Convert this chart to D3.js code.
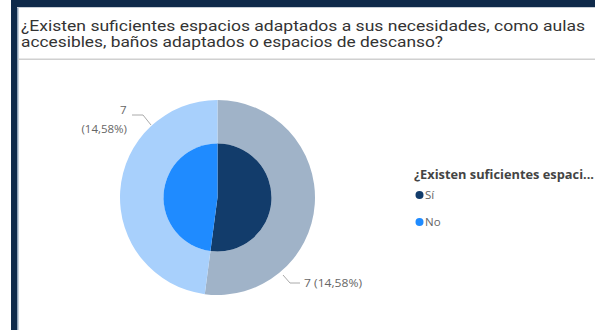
<!DOCTYPE html>
<html><head><meta charset="utf-8">
<script src="https://cdn.jsdelivr.net/npm/d3@7"></script>
<style>body{margin:0;background:#fff}svg{display:block}</style>
</head><body>
<svg id="c" width="595" height="330"></svg>
<script>
const titleLines = ["¿Existen suficientes espacios adaptados a sus necesidades, como aulas", "accesibles, baños adaptados o espacios de descanso?"];
const categories = ["Sí", "No"];
const innerValues = [25, 23];
const outerValues = [25, 23];
const outerLabels = [["7 (14,58%)"], ["7", "(14,58%)"]];
const legendTitle = "¿Existen suficientes espaci...";
const innerColors = ["#123C6B", "#1F8BFF"];
const outerColors = ["#A0B3C8", "#A8D0FC"];

const svg = d3.select("#c");
// frame
svg.append("rect").attr("x", 11).attr("y", 0).attr("width", 6).attr("height", 330).attr("fill", "#0F2A4A");
svg.append("rect").attr("x", 11).attr("y", 0).attr("width", 584).attr("height", 7).attr("fill", "#0F2A4A");
svg.append("rect").attr("x", 17).attr("y", 7).attr("width", 1.5).attr("height", 323).attr("fill", "#8FA3B8");
svg.append("rect").attr("x", 17).attr("y", 7).attr("width", 578).attr("height", 1).attr("fill", "#C8CED6");
svg.append("rect").attr("x", 18).attr("y", 58.5).attr("width", 577).attr("height", 1.5).attr("fill", "#D0D0D0");

const titleWidths = [564, 422];
titleLines.forEach((l, i) => {
  svg.append("text").attr("font-family", "Roboto, sans-serif").attr("font-size", 14.5).attr("fill", "#333")
    .attr("x", 21).attr("y", 30.5 + i * 16.5)
    .attr("textLength", titleWidths[i]).attr("lengthAdjust", "spacingAndGlyphs").text(l);
});

const cx = 217.5, cy = 197.5, rIn = 54, rOut = 97.5;
const g = svg.append("g").attr("transform", `translate(${cx},${cy})`);
const pie = d3.pie().sort(null).value(d => d);
const innerArcs = pie(innerValues);
const outerArcs = pie(outerValues);
g.selectAll(".o").data(outerArcs).join("path").attr("class", "o")
  .attr("d", d3.arc().innerRadius(rIn).outerRadius(rOut)).attr("fill", (d, i) => outerColors[i]);
g.selectAll(".i").data(innerArcs).join("path").attr("class", "i")
  .attr("d", d3.arc().innerRadius(0).outerRadius(rIn)).attr("fill", (d, i) => innerColors[i]);

// labels
const lab = svg.append("g").attr("font-family", "Open Sans, sans-serif").attr("font-size", 11.5).attr("fill", "#666");
lab.append("path").attr("d", "M283,275 L290,283 L300,283").attr("fill", "none").attr("stroke", "#AAA").attr("stroke-width", 1);
lab.append("text").attr("x", 304).attr("y", 287).attr("textLength", 58).attr("lengthAdjust", "spacingAndGlyphs").text(outerLabels[0][0]);
lab.append("path").attr("d", "M151,125 L143,115 L132,115").attr("fill", "none").attr("stroke", "#AAA").attr("stroke-width", 1);
lab.append("text").attr("x", 126.5).attr("y", 114).attr("text-anchor", "end").text(outerLabels[1][0]);
lab.append("text").attr("x", 127).attr("y", 133).attr("text-anchor", "end").text(outerLabels[1][1]);

// legend
const lg = svg.append("g").attr("font-family", "Open Sans, sans-serif");
lg.append("text").attr("x", 414).attr("y", 179).attr("font-size", 11.5).attr("font-weight", "bold").attr("fill", "#444")
  .attr("textLength", 180).attr("lengthAdjust", "spacingAndGlyphs").text(legendTitle);
categories.forEach((c, i) => {
  lg.append("circle").attr("cx", 419.5).attr("cy", 195 + i * 27).attr("r", 4).attr("fill", innerColors[i]);
  lg.append("text").attr("x", 425).attr("y", 199 + i * 27).attr("font-size", 11.5).attr("fill", "#666").text(c);
});
</script>
</body></html>
